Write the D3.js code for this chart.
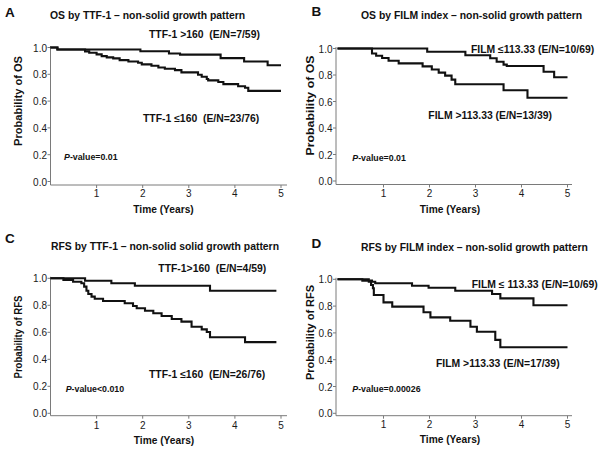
<!DOCTYPE html>
<html><head><meta charset="utf-8">
<script src="https://cdn.jsdelivr.net/npm/d3@7"></script>
<style>
body{margin:0;background:#fff}
text{font-family:"Liberation Sans",Arial,Helvetica,sans-serif}
</style>
</head><body>
<svg id="chart" width="601" height="450"></svg>
<script>
// ---------------- data ----------------
const panelLetters = ["A", "B", "C", "D"];
const panelTitles = [
  "OS by TTF-1 \u2013 non-solid growth pattern",
  "OS by FILM index \u2013 non-solid growth pattern",
  "RFS by TTF-1 \u2013 non-solid solid growth pattern",
  "RFS by FILM index \u2013 non-solid growth pattern"
];
const yAxisLabels = ["Probability of OS", "Probability of OS", "Probability of RFS", "Probability of RFS"];
const xAxisLabel = "Time (Years)";
const xTickValues = [1, 2, 3, 4, 5];
const yTickValues = [0, 0.2, 0.4, 0.6, 0.8, 1.0];
const pValueTexts = ["-value=0.01", "-value=0.01", "-value<0.010", "-value=0.00026"];
const upperLabels = ["TTF-1 >160  (E/N=7/59)", "FILM \u2264113.33 (E/N=10/69)", "TTF-1>160  (E/N=4/59)", "FILM \u2264 113.33 (E/N=10/69)"];
const lowerLabels = ["TTF-1 \u2264160  (E/N=23/76)", "FILM >113.33 (E/N=13/39)", "TTF-1 \u2264160  (E/N=26/76)", "FILM >113.33 (E/N=17/39)"];
const followUpEnd = [5.0, 5.0, 4.9, 5.0];

// Panel A: OS by TTF-1
const aHighTime = [0, 0.15, 1.95, 2.57, 2.81, 3.69, 4.2, 4.71];
const aHighSurv = [1, 0.985, 0.972, 0.955, 0.947, 0.921, 0.896, 0.868];
const aLowTime = [0, 0.15, 0.75, 0.84, 1.0, 1.11, 1.22, 1.36, 1.5, 1.69, 1.9, 1.98, 2.19, 2.34, 2.48, 2.7, 2.84, 3.2, 3.28, 3.39, 3.42, 3.64, 3.75, 4.07, 4.22, 4.29];
const aLowSurv = [1, 0.985, 0.971, 0.961, 0.949, 0.936, 0.926, 0.919, 0.906, 0.896, 0.886, 0.874, 0.864, 0.851, 0.841, 0.831, 0.814, 0.797, 0.782, 0.765, 0.755, 0.742, 0.727, 0.711, 0.700, 0.676];

// Panel B: OS by FILM index
const bLowTime = [0, 1.95, 2.78, 3.32, 3.46, 3.61, 3.68, 4.48, 4.71];
const bLowSurv = [1, 0.975, 0.949, 0.926, 0.9, 0.878, 0.868, 0.825, 0.783];
const bHighTime = [0, 0.75, 0.84, 0.97, 1.11, 1.33, 1.85, 2.05, 2.2, 2.34, 2.48, 2.56, 3.61, 4.13];
const bHighSurv = [1, 0.962, 0.945, 0.928, 0.908, 0.888, 0.865, 0.841, 0.818, 0.795, 0.765, 0.73, 0.685, 0.628];

// Panel C: RFS by TTF-1
const cHighTime = [0, 0.75, 1.32, 1.83, 3.46];
const cHighSurv = [1, 0.982, 0.963, 0.945, 0.908];
const cLowTime = [0, 0.28, 0.49, 0.67, 0.73, 0.78, 0.82, 0.89, 0.96, 1.14, 1.61, 1.79, 1.87, 2.05, 2.23, 2.41, 2.63, 2.84, 3.06, 3.28, 3.39, 3.46, 4.22];
const cLowSurv = [1, 0.987, 0.975, 0.963, 0.938, 0.908, 0.884, 0.864, 0.849, 0.832, 0.815, 0.795, 0.778, 0.76, 0.741, 0.721, 0.699, 0.679, 0.641, 0.622, 0.602, 0.563, 0.527];

// Panel D: RFS by FILM index
const dLowTime = [0, 0.54, 0.75, 0.82, 1.62, 1.98, 2.56, 3.36, 3.54, 4.26];
const dLowSurv = [1, 0.99, 0.982, 0.97, 0.952, 0.937, 0.915, 0.89, 0.858, 0.806];
const dHighTime = [0, 0.68, 0.73, 0.77, 0.79, 1.0, 1.19, 1.87, 2.02, 2.45, 2.89, 3.03, 3.43, 3.54];
const dHighSurv = [1, 0.983, 0.957, 0.933, 0.883, 0.828, 0.796, 0.754, 0.716, 0.691, 0.646, 0.609, 0.548, 0.493];

const panelSeries = [
  [[aHighTime, aHighSurv], [aLowTime, aLowSurv]],
  [[bLowTime, bLowSurv], [bHighTime, bHighSurv]],
  [[cHighTime, cHighSurv], [cLowTime, cLowSurv]],
  [[dLowTime, dLowSurv], [dHighTime, dHighSurv]]
];

// ---------------- layout ----------------
const layouts = [
  {axisX: 50.5, xr: [50.5, 281], yr: [181.5, 47.5], xAxisY: 185, xAxisEnd: 287,
   letter: [5, 16.5], title: [50, 18.5], up: [149, 37.7], low: [143, 121.5], p: [64, 160],
   yLab: [21.5, 101, 90], xLab: [163.5, 213.3], tickBase: 196.7},
  {axisX: 336, xr: [337.5, 567.5], yr: [181, 48.5], xAxisY: 184.5, xAxisEnd: 572,
   letter: [311.5, 16.3], title: [361, 18.5], up: [471, 52.7], low: [428.3, 119], p: [352.3, 160.7],
   yLab: [313.5, 105.5, 100], xLab: [450, 213.3], tickBase: 196.7},
  {axisX: 50.5, xr: [50.5, 281], yr: [413.3, 278.3], xAxisY: 415.7, xAxisEnd: 287,
   letter: [5, 243.3], title: [51, 250], up: [158.3, 272.3], low: [149, 377.7], p: [65.7, 391.7],
   yLab: [21.5, 337, 83], xLab: [164, 444.3], tickBase: 429},
  {axisX: 336, xr: [337.5, 567.5], yr: [413.3, 279.3], xAxisY: 415.7, xAxisEnd: 572,
   letter: [311.5, 248], title: [361, 250.5], up: [471.7, 288], low: [436, 366.7], p: [352.3, 391.7],
   yLab: [313.5, 332.5, 95], xLab: [450, 443.3], tickBase: 428.3}
];

const svg = d3.select("#chart");
const axisColor = "#7a7a7a";
const textColor = "#1a1a1a";

panelLetters.forEach((letter, i) => {
  const L = layouts[i];
  const g = svg.append("g");
  const x = d3.scaleLinear().domain([0, 5]).range(L.xr);
  const y = d3.scaleLinear().domain([0, 1]).range(L.yr);

  // axis lines
  g.append("line").attr("x1", L.axisX).attr("x2", L.axisX)
    .attr("y1", y(1) - 1.5).attr("y2", L.xAxisY)
    .attr("stroke", axisColor).attr("stroke-width", 1);
  g.append("line").attr("x1", L.axisX).attr("x2", L.xAxisEnd)
    .attr("y1", L.xAxisY).attr("y2", L.xAxisY)
    .attr("stroke", axisColor).attr("stroke-width", 1);

  // y ticks
  yTickValues.forEach(v => {
    g.append("line").attr("x1", L.axisX - 3).attr("x2", L.axisX)
      .attr("y1", y(v)).attr("y2", y(v)).attr("stroke", axisColor).attr("stroke-width", 1);
    g.append("text").attr("x", L.axisX - 3.5).attr("y", y(v) + 4)
      .attr("text-anchor", "end").attr("font-size", 10).attr("fill", textColor)
      .text(d3.format(".1f")(v));
  });
  // x ticks
  xTickValues.forEach(v => {
    g.append("line").attr("x1", x(v)).attr("x2", x(v))
      .attr("y1", L.xAxisY).attr("y2", L.xAxisY + 3).attr("stroke", axisColor).attr("stroke-width", 1);
    g.append("text").attr("x", x(v)).attr("y", L.tickBase)
      .attr("text-anchor", "middle").attr("font-size", 10).attr("fill", textColor)
      .text(v);
  });

  // curves
  const line = d3.line().x(d => x(d[0])).y(d => y(d[1])).curve(d3.curveStepAfter);
  panelSeries[i].forEach(([times, surv]) => {
    const pts = times.map((t, k) => [t, surv[k]]);
    pts.push([followUpEnd[i], surv[surv.length - 1]]);
    g.append("path").attr("d", line(pts)).attr("fill", "none")
      .attr("stroke", "#111").attr("stroke-width", 2.1);
  });

  // texts
  g.append("text").attr("x", L.letter[0]).attr("y", L.letter[1])
    .attr("font-size", 13.5).attr("font-weight", "bold").attr("fill", "#111").text(letter);
  g.append("text").attr("x", L.title[0]).attr("y", L.title[1])
    .attr("font-size", 10.4).attr("font-weight", "bold").attr("fill", "#111").text(panelTitles[i]);
  g.append("text").attr("x", L.up[0]).attr("y", L.up[1]).attr("xml:space", "preserve")
    .style("white-space", "pre")
    .attr("font-size", 10.4).attr("font-weight", "bold").attr("fill", "#111").text(upperLabels[i]);
  g.append("text").attr("x", L.low[0]).attr("y", L.low[1]).attr("xml:space", "preserve")
    .style("white-space", "pre")
    .attr("font-size", 10.4).attr("font-weight", "bold").attr("fill", "#111").text(lowerLabels[i]);
  const pt = g.append("text").attr("x", L.p[0]).attr("y", L.p[1])
    .attr("font-size", 8.8).attr("font-weight", "bold").attr("fill", "#111");
  pt.append("tspan").attr("font-style", "italic").text("P");
  pt.append("tspan").text(pValueTexts[i]);

  g.append("text")
    .attr("transform", `translate(${L.yLab[0]},${L.yLab[1]}) rotate(-90)`)
    .attr("text-anchor", "middle").attr("font-size", 10.2).attr("font-weight", "bold")
    .attr("textLength", L.yLab[2]).attr("lengthAdjust", "spacingAndGlyphs")
    .attr("fill", "#111").text(yAxisLabels[i]);
  g.append("text").attr("x", L.xLab[0]).attr("y", L.xLab[1])
    .attr("text-anchor", "middle").attr("font-size", 10.2).attr("font-weight", "bold")
    .attr("fill", "#111").text(xAxisLabel);
});
</script>
</body></html>
